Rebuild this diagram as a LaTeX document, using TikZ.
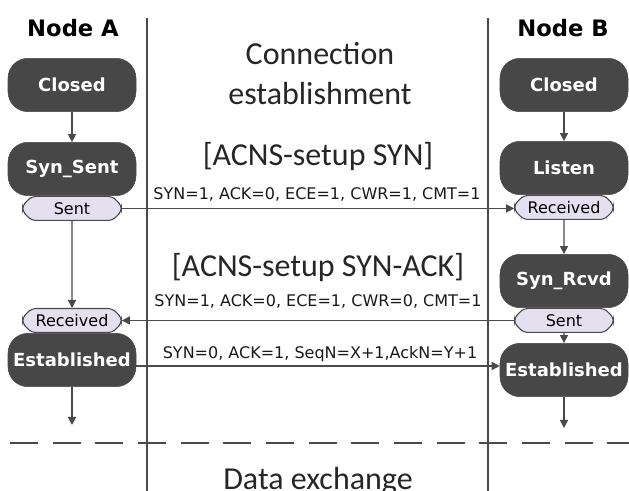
\documentclass[tikz,border=0pt]{standalone}
\usepackage{fontspec}
\setmainfont{Carlito}
\newfontfamily\pixfont{DejaVu Sans}
\usetikzlibrary{arrows.meta, positioning, shapes.misc}
\definecolor{statefill}{HTML}{474747}
\definecolor{eventfill}{HTML}{E4E0F0}
\definecolor{linegray}{HTML}{4A4A4A}

\begin{document}
\begin{tikzpicture}[
		x=0.75pt, y=-0.75pt,
		node distance=0pt,
		state/.style={rectangle, draw=statefill, fill=statefill, rounded corners=15pt, minimum width=96pt, minimum height=40pt, inner sep=0pt, text=white, font=\pixfont\bfseries\fontsize{13.5}{16}\selectfont},
		event/.style={chamfered rectangle, chamfered rectangle xsep=3.5pt, draw=linegray, line width=0.8pt, fill=eventfill, rounded corners=3pt, minimum width=74pt, minimum height=18pt, inner sep=0pt, font=\pixfont\fontsize{12}{14}\selectfont},
		title/.style={font=\pixfont\bfseries\fontsize{17}{20}\selectfont},
		heading/.style={align=center, text=black!85, font=\fontsize{24}{30}\selectfont},
		flags/.style={anchor=base, inner sep=0pt, text=black!90, font=\pixfont\fontsize{12}{14}\selectfont},
		lane/.style={line width=2pt, draw=linegray},
		arrow/.style={-{Triangle[length=6pt, width=6pt]}, line width=1.1pt, draw=linegray}
		]
		\useasboundingbox (0,0) rectangle (629,491);

		\draw[lane] (147,18) -- (147,491);
		\draw[lane] (488,18) -- (488,491);
		\draw[lane, dash pattern=on 21pt off 11pt] (10,443) -- (629,443);

		\node[title] (nodea) at (73,28) {Node A};
		\node[title] (nodeb) at (563,28) {Node B};

		\node[state] (closeda) at (72,85) {Closed};
		\node[state] (synsent) at (72,169) {Syn\_Sent};
		\node[event, below=of synsent] (senta) {Sent};
		\node[state] (esta) at (72,360) {Established};
		\node[event, above=of esta] (recva) {Received};
		\coordinate (enda) at (72,425);

		\node[state] (closedb) at (564,85) {Closed};
		\node[state] (listen) at (564,168) {Listen};
		\node[event, below=of listen] (recvb) {Received};
		\node[state] (synrcvd) at (564,281) {Syn\_Rcvd};
		\node[event, below=of synrcvd] (sentb) {Sent};
		\node[state] (estb) at (564,370) {Established};
		\coordinate (endb) at (564,428);

		\node[heading] (phase) at (320,74) {Connection\\establishment};
		\node[heading, anchor=base] (synmsg) at (318,166) {[ACNS-setup SYN]};
		\node[flags] (synflags) at (317,200) {SYN=1, ACK=0, ECE=1, CWR=1, CMT=1};
		\node[heading, anchor=base] (synackmsg) at (318,277) {[ACNS-setup SYN-ACK]};
		\node[flags] (synackflags) at (318,307) {SYN=1, ACK=0, ECE=1, CWR=0, CMT=1};
		\node[flags] (ackflags) at (320,359) {SYN=0, ACK=1, SeqN=X+1,AckN=Y+1};
		\node[heading, anchor=base] (datamsg) at (318,490) {Data exchange};

		\draw[arrow] (closeda) -- (synsent);
		\draw[arrow] (senta) -- (recva);
		\draw[arrow] (esta) -- (enda);
		\draw[arrow] (closedb) -- (listen);
		\draw[arrow] (recvb) -- (synrcvd);
		\draw[arrow] (sentb) -- (estb);
		\draw[arrow] (estb) -- (endb);

		\draw[arrow] (senta.east) -- (senta.east -| recvb.west);
		\draw[arrow] (sentb.west) -- (sentb.west -| recva.east);
		\draw[arrow] ([yshift=-4.5pt]esta.east) -- ([yshift=-4.5pt]esta.east -| estb.west);
	\end{tikzpicture}
\end{document}
